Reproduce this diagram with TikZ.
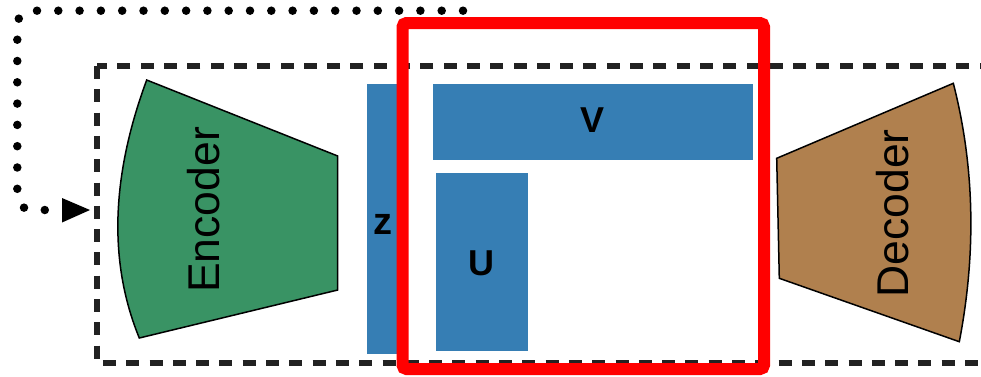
\documentclass[tikz,border=0pt]{standalone}
\usepackage{fontspec}
\setmainfont{Liberation Sans}
\usetikzlibrary{arrows.meta}
\definecolor{encgreen}{RGB}{57,147,100}
\definecolor{decbrown}{RGB}{176,128,78}
\definecolor{barblue}{RGB}{54,126,180}
\definecolor{framered}{RGB}{255,0,0}
\definecolor{dashgray}{RGB}{34,34,34}
\begin{document}
\begin{tikzpicture}[x=1pt,y=-1pt,
  bar/.style={fill=barblue, draw=none, inner sep=0pt, anchor=north west},
  barlabel/.style={font=\bfseries\fontsize{36}{36}\selectfont, inner sep=0pt},
  coderlabel/.style={font=\fontsize{44.5}{44.5}\selectfont, rotate=90, inner sep=0pt},
  coder/.style={draw=black, line width=1.5pt, line join=miter},
  dashbox/.style={draw=dashgray, line width=6pt, dash pattern=on 13pt off 10.3pt},
  loopline/.style={draw=black, line width=8.5pt, line cap=round, dash pattern=on 0pt off 21.3pt, rounded corners=14pt},
  redframe/.style={draw=framered, line width=12pt, rounded corners=4pt}]
\useasboundingbox (0,0) rectangle (981,376);
\clip (0,0) rectangle (981,376);
\fill[white] (0,0) rectangle (981,376);

% dashed frame
\draw[dashbox] (97,66) rectangle (1005,363);

% encoder
\coordinate (encTL) at (146.7,80);
\coordinate (encTR) at (337.7,156);
\coordinate (encBR) at (337.7,290);
\coordinate (encBL) at (139.3,338);
\draw[coder, fill=encgreen] (encTL) -- (encTR) -- (encBR) -- (encBL)
  .. controls (108.4,262.7) and (110.9,176.7) .. cycle;
\node[coderlabel] (enc) at (204,210) {Encoder};

% decoder
\coordinate (decTL) at (776.7,158.3);
\coordinate (decTR) at (953.3,83.3);
\coordinate (decBR) at (959.3,341.7);
\coordinate (decBL) at (779.3,278.3);
\draw[coder, fill=decbrown] (decTL) -- (decTR)
  .. controls (974.5,166.1) and (976.5,252.2) .. (decBR) -- (decBL) -- cycle;
\node[coderlabel] (dec) at (893,213.3) {Decoder};

% bars
\node[bar, minimum width=38pt, minimum height=270pt] (zbar) at (367,83.3) {};
\node[barlabel, font=\bfseries\fontsize{38}{38}\selectfont] (zlabel) at (383,224) {z};
\node[bar, minimum width=320pt, minimum height=76.7pt] (vbar) at (432.7,83.3) {};
\node[barlabel] (vlabel) at (592,120.5) {V};
\node[bar, minimum width=91.3pt, minimum height=178.4pt] (ubar) at (436,172.3) {};
\node[barlabel] (ulabel) at (481.5,263) {U};

% red frame
\draw[redframe] (402.5,23) rectangle (764,369);

% dotted feedback loop
\coordinate (loopstart) at (463,10.7);
\coordinate (arrowtip) at (90,210);
\draw[loopline] (loopstart) -- (17.3,10.7) -- (17.3,210) -- (62,210);
\fill[black] (arrowtip) -- (62,198) -- (62,222.5) -- cycle;
\end{tikzpicture}
\end{document}
